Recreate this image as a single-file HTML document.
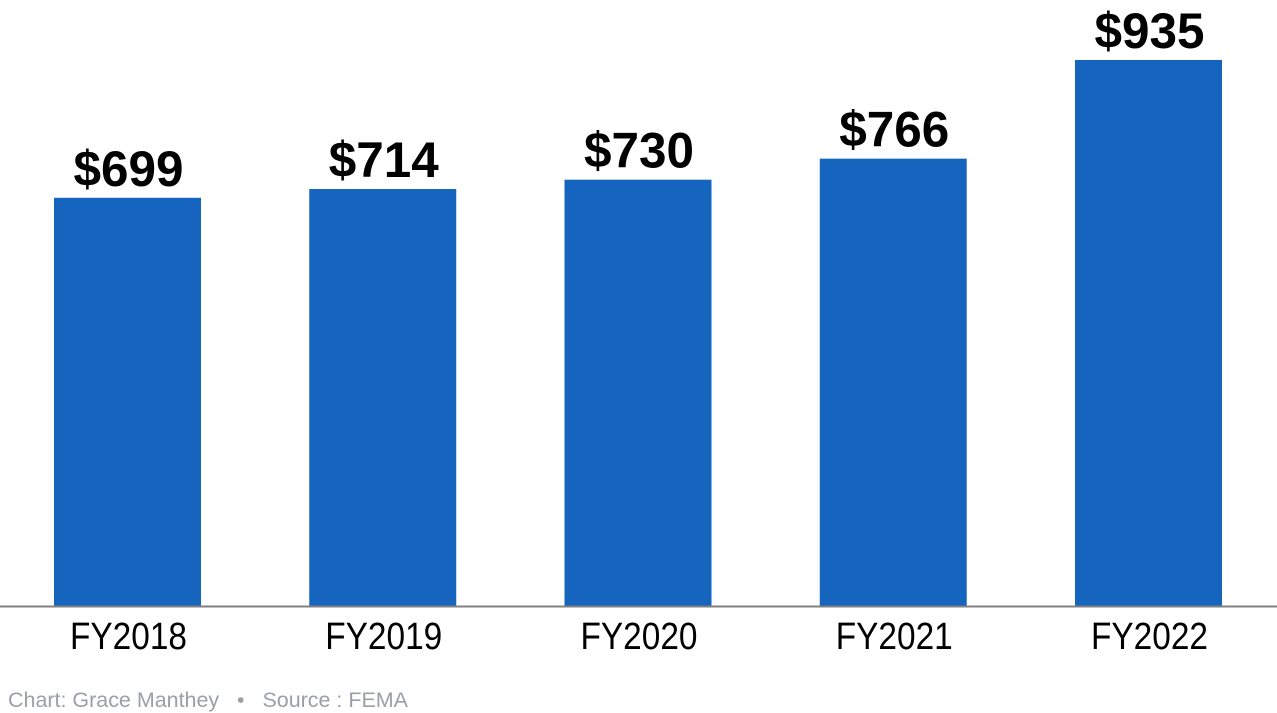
<!DOCTYPE html>
<html><head><meta charset="utf-8"><style>
html,body{margin:0;padding:0;background:#fff;}
svg{display:block;}
</style></head><body>
<svg id="chart" width="1277" height="713" viewBox="0 0 1277 713" xmlns="http://www.w3.org/2000/svg">
<g id="bars"></g>
<line x1="0" y1="606.5" x2="1277" y2="606.5" stroke="#808080" stroke-width="2"/>
<text x="8" y="707" font-family="'Liberation Sans', sans-serif" font-size="21" fill="#9aa0a6" textLength="400" lengthAdjust="spacingAndGlyphs">Chart: Grace Manthey &#160;&#160;•&#160;&#160; Source : FEMA</text>
</svg>
<script>
const categories = ["FY2018","FY2019","FY2020","FY2021","FY2022"];
const values = [699, 714, 730, 766, 935];
const valueLabels = ["$699","$714","$730","$766","$935"];

const svgNS = "http://www.w3.org/2000/svg";
const g = document.getElementById('bars');
const baseY = 606;
const pxPerUnit = 0.584;
function yScale(v){ return baseY - v * pxPerUnit; }
function xBand(i){ return 54 + i * 255.25; }
const barW = 147;
categories.forEach((c, i) => {
  const x = xBand(i);
  const y = yScale(values[i]);
  const r = document.createElementNS(svgNS, 'rect');
  r.setAttribute('x', x); r.setAttribute('y', y);
  r.setAttribute('width', barW); r.setAttribute('height', baseY - y);
  r.setAttribute('fill', '#1565be');
  
  
  g.appendChild(r);

  const t = document.createElementNS(svgNS, 'text');
  t.setAttribute('x', x + barW / 2 + 1); t.setAttribute('y', y - 12);
  t.setAttribute('text-anchor', 'middle');
  t.setAttribute('font-family', "'Liberation Sans Narrow','Liberation Sans',sans-serif");
  t.setAttribute('font-weight', 'bold'); t.setAttribute('font-size', '50');
  t.setAttribute('textLength', '110'); t.setAttribute('lengthAdjust', 'spacingAndGlyphs');
  t.textContent = valueLabels[i];
  
  
  g.appendChild(t);

  const l = document.createElementNS(svgNS, 'text');
  l.setAttribute('x', x + barW / 2 + 1); l.setAttribute('y', 649);
  l.setAttribute('text-anchor', 'middle');
  l.setAttribute('font-family', "'Liberation Sans Narrow','Liberation Sans',sans-serif");
  l.setAttribute('font-size', '38'); l.setAttribute('fill', '#000');
  l.setAttribute('textLength', '117'); l.setAttribute('lengthAdjust', 'spacingAndGlyphs');
  l.textContent = c;
  
  
  g.appendChild(l);
});
</script>
</body></html>
